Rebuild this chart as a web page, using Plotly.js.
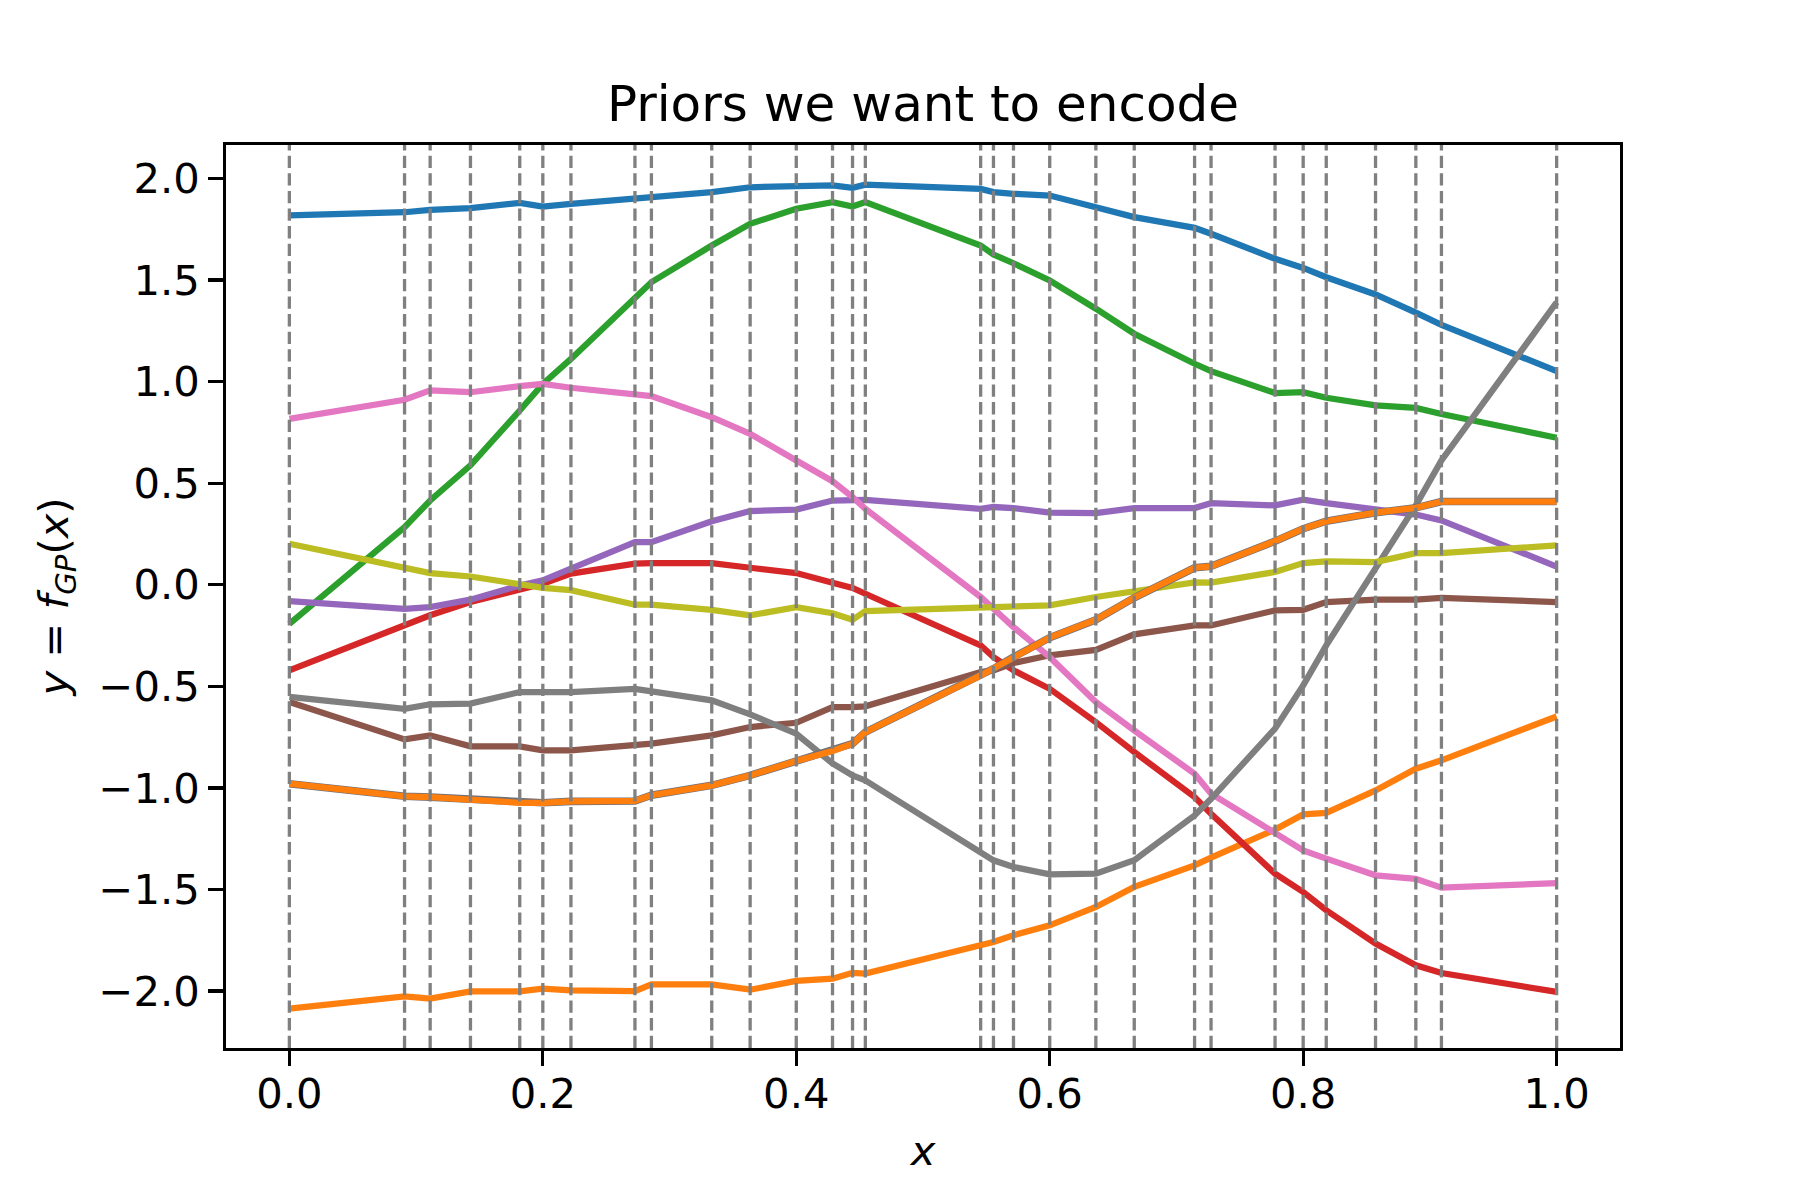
<!DOCTYPE html>
<html>
<head>
<meta charset="utf-8">
<script src="https://cdn.plot.ly/plotly-3.0.1.min.js"></script>
<style>
  body { margin: 0; background: white; }
</style>
</head>
<body>
<div id="priors-plot" style="width:1800px;height:1200px;"></div>
<script>
// x locations shared by every prior (also where the dashed guide lines go)
var xs = [0, 0.0909, 0.1111, 0.1429, 0.1818, 0.2, 0.2222, 0.2727, 0.2857, 0.3333,
          0.3636, 0.4, 0.4286, 0.4444, 0.4545, 0.5455, 0.5556, 0.5714, 0.6, 0.6364,
          0.6667, 0.7143, 0.7273, 0.7778, 0.8, 0.8182, 0.8571, 0.8889, 0.9091, 1];

var blue = [1.818, 1.834, 1.846, 1.854, 1.880, 1.862, 1.875, 1.900, 1.911, 1.933,
            1.957, 1.961, 1.966, 1.954, 1.970, 1.949, 1.933, 1.925, 1.916, 1.859,
            1.810, 1.757, 1.728, 1.605, 1.560, 1.514, 1.429, 1.340, 1.280, 1.052];
var orangeLow = [-2.086, -2.026, -2.037, -2.001, -2.001, -1.988, -1.996, -2.000, -1.967, -1.967,
                 -1.993, -1.950, -1.939, -1.910, -1.914, -1.775, -1.758, -1.725, -1.676, -1.586,
                 -1.487, -1.381, -1.343, -1.205, -1.130, -1.123, -1.012, -0.905, -0.864, -0.648];
var green = [-0.192, 0.284, 0.415, 0.588, 0.858, 0.989, 1.112, 1.416, 1.490, 1.670,
             1.777, 1.851, 1.884, 1.862, 1.884, 1.670, 1.626, 1.583, 1.498, 1.359,
             1.236, 1.088, 1.052, 0.944, 0.948, 0.921, 0.883, 0.871, 0.841, 0.724];
var red = [-0.421, -0.200, -0.150, -0.085, -0.024, 0.005, 0.055, 0.104, 0.107, 0.107,
           0.084, 0.058, 0.010, -0.015, -0.044, -0.298, -0.356, -0.421, -0.512, -0.676,
           -0.823, -1.045, -1.127, -1.422, -1.512, -1.602, -1.766, -1.873, -1.911, -2.004];
var purple = [-0.080, -0.118, -0.110, -0.073, -0.003, 0.022, 0.080, 0.210, 0.210, 0.313,
              0.363, 0.370, 0.415, 0.418, 0.418, 0.374, 0.383, 0.378, 0.355, 0.353,
              0.378, 0.378, 0.402, 0.391, 0.419, 0.402, 0.368, 0.346, 0.317, 0.090];
var brown = [-0.577, -0.761, -0.741, -0.795, -0.795, -0.815, -0.815, -0.786, -0.782, -0.741,
             -0.700, -0.679, -0.602, -0.602, -0.598, -0.429, -0.421, -0.385, -0.347, -0.320,
             -0.244, -0.200, -0.200, -0.126, -0.123, -0.085, -0.073, -0.073, -0.064, -0.085];
var pink = [0.817, 0.911, 0.957, 0.948, 0.978, 0.989, 0.970, 0.932, 0.929, 0.825,
            0.743, 0.612, 0.510, 0.432, 0.374, -0.060, -0.118, -0.208, -0.356, -0.577,
            -0.717, -0.930, -1.028, -1.222, -1.307, -1.348, -1.430, -1.447, -1.491, -1.468];
var gray = [-0.552, -0.610, -0.588, -0.585, -0.528, -0.528, -0.528, -0.512, -0.523, -0.569,
            -0.638, -0.733, -0.879, -0.938, -0.963, -1.324, -1.356, -1.389, -1.425, -1.422,
            -1.356, -1.135, -1.053, -0.708, -0.495, -0.298, 0.085, 0.391, 0.612, 1.391];
var olive = [0.202, 0.084, 0.058, 0.041, 0.002, -0.015, -0.026, -0.098, -0.098, -0.123,
             -0.150, -0.110, -0.140, -0.172, -0.129, -0.110, -0.106, -0.106, -0.101, -0.060,
             -0.031, 0.012, 0.011, 0.063, 0.107, 0.115, 0.112, 0.156, 0.156, 0.194];
var orangeMid = [-0.979, -1.041, -1.045, -1.058, -1.073, -1.073, -1.066, -1.064, -1.036, -0.987,
                 -0.938, -0.867, -0.818, -0.782, -0.725, -0.446, -0.413, -0.356, -0.260, -0.172,
                 -0.064, 0.084, 0.091, 0.215, 0.276, 0.313, 0.355, 0.379, 0.410, 0.410];

// axis ticks
var xTicks = [0, 0.2, 0.4, 0.6, 0.8, 1.0];
var xTickText = ["0.0", "0.2", "0.4", "0.6", "0.8", "1.0"];
var yTicks = [-2, -1.5, -1, -0.5, 0, 0.5, 1, 1.5, 2];
var yTickText = ["\u22122.0", "\u22121.5", "\u22121.0", "\u22120.5", "0.0", "0.5", "1.0", "1.5", "2.0"];

var lw = 6.25;
function line(ys, color, width) {
  return {
    x: xs,
    y: ys,
    type: "scatter",
    mode: "lines",
    line: { color: color, width: width || lw },
    hoverinfo: "skip",
    showlegend: false
  };
}

var data = [
  line(blue, "#1f77b4"),
  line(orangeLow, "#ff7f0e"),
  line(green, "#2ca02c"),
  line(red, "#d62728"),
  line(purple, "#9467bd"),
  line(brown, "#8c564b"),
  line(pink, "#e377c2"),
  line(gray, "#7f7f7f"),
  line(olive, "#bcbd22"),
  // the middle orange sits on top of another sample -> thin dark edge
  line(orangeMid, "#6f6f78", 7.6),
  line(orangeMid, "#ff7f0e")
];

// dashed vertical guides at every input location
var shapes = xs.map(v => ({
  type: "line",
  xref: "x", yref: "paper",
  x0: v, x1: v, y0: 0, y1: 1,
  line: { color: "#808080", width: 3.3, dash: "12.3px,5.3px" }
}));

var font = { family: "DejaVu Sans, sans-serif", color: "black" };

var layout = {
  width: 1800,
  height: 1200,
  paper_bgcolor: "white",
  plot_bgcolor: "white",
  margin: { l: 226, r: 180, t: 145, b: 152 },
  font: Object.assign({ size: 41.7 }, font),
  title: {
    text: "Priors we want to encode",
    font: Object.assign({ size: 50 }, font),
    x: 0.5, xref: "paper", xanchor: "center",
    y: 1, yref: "paper", yanchor: "bottom",
    pad: { b: 24 }
  },
  xaxis: {
    range: [-0.05, 1.05],
    tickvals: xTicks,
    ticktext: xTickText,
    ticks: "outside",
    ticklen: 14.6,
    tickwidth: 3.3,
    tickcolor: "black",
    ticklabelstandoff: -8,
    showline: true,
    mirror: true,
    linewidth: 3.3,
    linecolor: "black",
    showgrid: false,
    zeroline: false,
    tickfont: Object.assign({ size: 41.7 }, font),
    title: { text: "<i>x</i>", font: Object.assign({ size: 41.7 }, font), standoff: 20 }
  },
  yaxis: {
    range: [-2.28, 2.165],
    tickvals: yTicks,
    ticktext: yTickText,
    ticks: "outside",
    ticklen: 14.6,
    tickwidth: 3.3,
    tickcolor: "black",
    showline: true,
    mirror: true,
    linewidth: 3.3,
    linecolor: "black",
    showgrid: false,
    zeroline: false,
    tickfont: Object.assign({ size: 41.7 }, font),
    title: {
      text: "<i>y</i> = <i>f</i><sub><i>GP</i></sub>(<i>x</i>)",
      font: Object.assign({ size: 41.7 }, font),
      standoff: 18
    }
  },
  shapes: shapes
};

Plotly.newPlot("priors-plot", data, layout, { staticPlot: true });
</script>
</body>
</html>
